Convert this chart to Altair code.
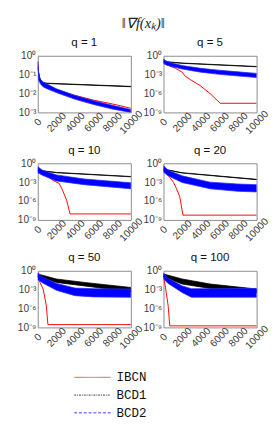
import altair as alt
import pandas as pd

Q_VALUES = [1, 5, 10, 20, 50, 100]
X_TICKS = [0, 2000, 4000, 6000, 8000, 10000]
SERIES = ["IBCN", "BCD1", "BCD2"]

# IBCN (red line): iteration -> log10 ||grad f||
ibcn_x = {
    1: [0, 100, 300, 600, 1000, 2000, 4000, 6000, 8000, 10000],
    5: [0, 600, 1300, 2000, 2300, 2900, 3900, 5000, 6100, 10000],
    10: [0, 1000, 1600, 2300, 2600, 3100, 3470, 10000],
    20: [0, 570, 1080, 1410, 1750, 2090, 10000],
    50: [0, 240, 580, 750, 920, 1090, 10000],
    100: [0, 240, 500, 670, 10000],
}
ibcn_log = {
    1: [-0.35, -1.0, -1.3, -1.45, -1.55, -1.8, -2.1, -2.35, -2.55, -2.78],
    5: [-1.2, -1.6, -2.0, -2.6, -3.2, -3.8, -4.7, -6.0, -7.55, -7.55],
    10: [-1.27, -2.03, -2.69, -3.2, -4.07, -5.85, -8.05, -8.05],
    20: [-1.02, -2.03, -3.05, -4.07, -5.34, -8.24, -8.24],
    50: [-0.8, -1.85, -2.9, -4.2, -5.55, -8.55, -8.55],
    100: [-0.8, -2.9, -5.55, -8.75, -8.75],
}

# BCD1 (black): iteration -> upper / lower log10 envelope
bcd1_x = {
    1: [0, 200, 500, 1000, 10000],
    5: [0, 2000, 10000],
    10: [0, 2000, 10000],
    20: [0, 2000, 10000],
    50: [0, 2000, 5000, 10000],
    100: [0, 2000, 5000, 10000],
}
bcd1_hi = {
    1: [-0.6, -1.2, -1.42, -1.45, -1.62],
    5: [-0.9, -1.15, -1.7],
    10: [-1.1, -1.45, -2.1],
    20: [-0.9, -1.5, -2.55],
    50: [-0.5, -1.3, -1.85, -2.65],
    100: [-0.5, -1.3, -2.1, -2.9],
}
bcd1_lo = {
    1: [-0.62, -1.22, -1.44, -1.47, -1.64],
    5: [-0.95, -1.2, -1.75],
    10: [-1.15, -1.5, -2.15],
    20: [-0.95, -1.55, -2.6],
    50: [-1.05, -1.85, -2.4, -3.35],
    100: [-1.0, -2.1, -2.8, -3.5],
}

# BCD2 (blue): iteration -> upper / lower log10 envelope of the oscillating band
bcd2_x = {
    1: [0, 100, 300, 600, 1000, 2000, 4000, 6000, 8000, 10000],
    5: [0, 300, 1000, 2000, 4000, 6000, 8000, 10000],
    10: [0, 500, 2000, 5000, 10000],
    20: [0, 500, 2000, 5000, 8000, 10000],
    50: [0, 500, 2000, 4000, 6000, 10000],
    100: [0, 500, 2000, 3000, 5000, 10000],
}
bcd2_hi = {
    1: [-0.3, -1.0, -1.25, -1.4, -1.5, -1.75, -2.1, -2.38, -2.62, -2.85],
    5: [-0.5, -0.85, -1.2, -1.55, -2.0, -2.3, -2.55, -2.8],
    10: [-0.55, -1.1, -1.85, -2.5, -3.1],
    20: [-0.4, -1.1, -2.0, -3.0, -3.3, -3.4],
    50: [-0.3, -1.0, -2.0, -2.75, -2.85, -2.9],
    100: [-0.4, -1.2, -2.4, -2.85, -2.85, -2.8],
}
bcd2_lo = {
    1: [-0.5, -1.3, -1.5, -1.65, -1.75, -1.95, -2.3, -2.58, -2.82, -3.0],
    5: [-1.2, -1.45, -1.75, -2.1, -2.6, -2.95, -3.2, -3.45],
    10: [-1.5, -1.9, -2.8, -3.4, -4.05],
    20: [-1.4, -2.0, -3.05, -4.05, -4.45, -4.55],
    50: [-1.4, -1.9, -3.1, -3.95, -4.15, -4.2],
    100: [-1.3, -2.0, -3.45, -4.2, -4.2, -4.2],
}

SUP = {0: "⁰", -1: "⁻¹", -2: "⁻²", -3: "⁻³", -6: "⁻⁶", -9: "⁻⁹"}
E = "round(log(datum.value)/LN10)"
label_expr = "'10' + (" + " : ".join(f"{E} == {k} ? '{v}'" for k, v in SUP.items()) + " : '')"

FONT = "Liberation Sans"
GRAY = "#404040"
PW, PH = 97, 59


def panel(q):
    if q == 1:
        ydom, yticks = [1e-3, 1], [1e-3, 1e-2, 1e-1, 1]
    else:
        ydom, yticks = [1e-9, 1], [1e-9, 1e-6, 1e-3, 1]
    red = pd.DataFrame({"it": ibcn_x[q], "g": [10 ** v for v in ibcn_log[q]]})
    blk = pd.DataFrame({"it": bcd1_x[q], "hi": [10 ** v for v in bcd1_hi[q]],
                        "lo": [10 ** v for v in bcd1_lo[q]]})
    blu = pd.DataFrame({"it": bcd2_x[q], "hi": [10 ** v for v in bcd2_hi[q]],
                        "lo": [10 ** v for v in bcd2_lo[q]]})
    xenc = alt.X("it:Q", scale=alt.Scale(domain=[0, 10000], nice=False),
                 axis=alt.Axis(values=X_TICKS, title=None, labelAngle=-45, format="d",
                               labelAlign="center", labelBaseline="middle",
                               labelPadding=10, ticks=False, domain=False,
                               grid=False, labelFont=FONT, labelFontSize=10.5,
                               labelColor=GRAY, labelOverlap=False, labelFlush=False))
    yscale = alt.Scale(type="log", domain=ydom, nice=False)
    yaxis = alt.Axis(values=yticks, title=None, labelExpr=label_expr, ticks=False,
                     domain=False, grid=False, labelFont=FONT, labelFontSize=10.5,
                     labelColor=GRAY, labelPadding=2, labelFlush=False)
    l_red = alt.Chart(red).mark_line(color="#ff0000", strokeWidth=1, clip=True).encode(
        x=xenc, y=alt.Y("g:Q", scale=yscale, axis=yaxis))
    l_blk = alt.Chart(blk).mark_area(color="#000000", stroke="#000000", strokeWidth=0.8,
                                     clip=True).encode(
        x=xenc, y=alt.Y("hi:Q", scale=yscale, axis=yaxis), y2="lo:Q")
    l_blu = alt.Chart(blu).mark_area(color="#0000ff", stroke="#2a2aff", strokeWidth=0.8,
                                     clip=True).encode(
        x=xenc, y=alt.Y("hi:Q", scale=yscale, axis=yaxis), y2="lo:Q")
    return alt.layer(l_red, l_blk, l_blu).properties(
        width=PW, height=PH,
        title=alt.TitleParams(f"q = {q}", font=FONT, fontSize=12, fontWeight="normal",
                              color="#111111", offset=2))


leg_df = pd.DataFrame({"series": SERIES, "x0": [38] * 3, "x1": [76] * 3})
ydisc = alt.Y("series:N", sort=SERIES, axis=None,
              scale=alt.Scale(type="point", domain=SERIES, range=[-1, 36], padding=0))
xleg = alt.Scale(domain=[0, PW], range=[0, PW], nice=False)
leg_lines = alt.Chart(leg_df).mark_rule(strokeWidth=1).encode(
    x=alt.X("x0:Q", scale=xleg, axis=None),
    x2="x1:Q",
    y=ydisc,
    color=alt.Color("series:N", scale=alt.Scale(domain=SERIES, range=["#ff5555", "#333333", "#3333ff"]),
                    legend=None),
    strokeDash=alt.StrokeDash("series:N", scale=alt.Scale(domain=SERIES,
                              range=[[1, 0], [2, 1, 1, 1], [3, 2]]), legend=None),
)
leg_text = alt.Chart(leg_df).mark_text(align="left", baseline="middle", dx=6,
                                       font="Liberation Mono", fontSize=13,
                                       color="#111111").encode(
    x=alt.X("x1:Q", scale=xleg, axis=None),
    y=ydisc, text="series:N")
legend = alt.layer(leg_lines, leg_text).properties(
    width=PW, height=40, view=alt.ViewBackground(stroke=None))

chart = alt.concat(*[panel(q) for q in Q_VALUES], legend, columns=2,
                   spacing=alt.RowColnumber(row=53, column=34), bounds="flush").properties(
    title=alt.TitleParams("‖∇f(xₖ)‖", font="Liberation Serif", fontSize=15,
                          fontStyle="italic", fontWeight="normal", color="#222222",
                          anchor="middle", offset=5),
    padding={"left": 8, "top": 0, "right": 0, "bottom": 0},
).configure_view(stroke="#888888", strokeWidth=1)

chart.save("out.html", embed_options={"renderer": "svg", "actions": False})
